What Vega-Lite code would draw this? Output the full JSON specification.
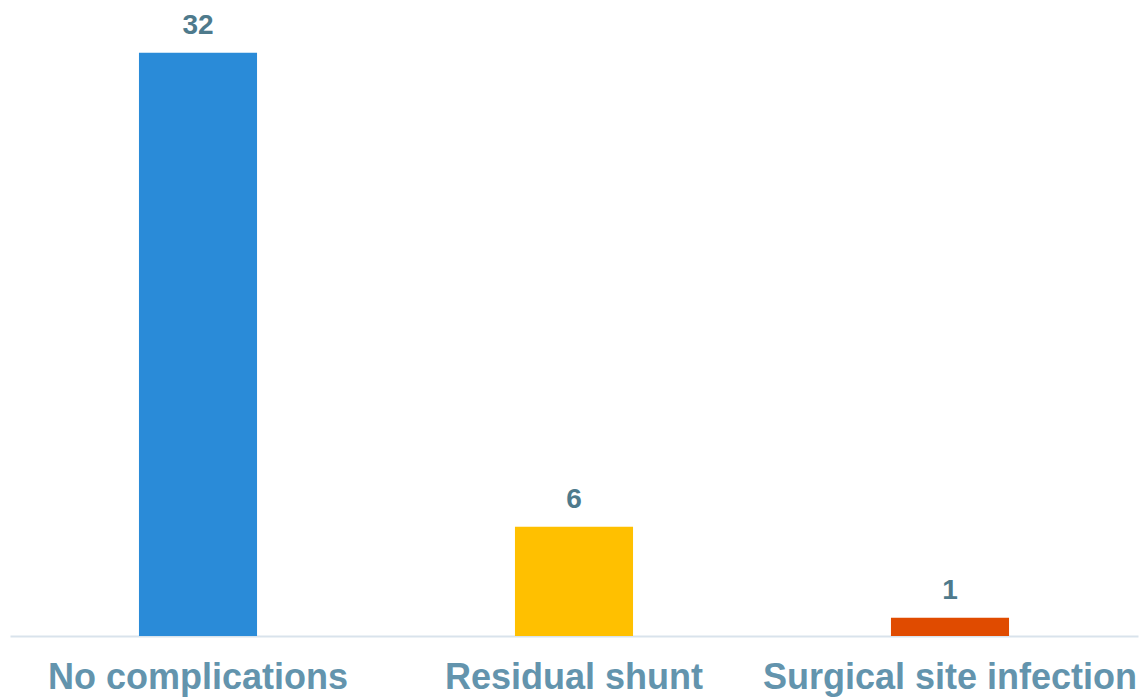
{
  "$schema": "https://vega.github.io/schema/vega-lite/v6.json",
  "autosize": {"type": "none"},
  "width": 1128,
  "height": 636,
  "padding": {"left": 10, "top": 0, "right": 6, "bottom": 62},
  "background": "#ffffff",
  "config": {
    "view": {"stroke": null},
    "font": "Liberation Sans"
  },
  "data": {
    "values": [
      {"outcome": "No complications", "patients": 32},
      {"outcome": "Residual shunt", "patients": 6},
      {"outcome": "Surgical site infection", "patients": 1}
    ]
  },
  "encoding": {
    "x": {
      "field": "outcome",
      "type": "nominal",
      "sort": null,
      "scale": {"paddingInner": 0.686, "paddingOuter": 0.343},
      "axis": {
        "title": null,
        "labelAngle": 0,
        "ticks": false,
        "labelPadding": 24,
        "labelFontSize": 36,
        "labelFontWeight": "bold",
        "labelColor": "#6394AD",
        "domainColor": "#D9E3EC",
        "domainWidth": 2,
        "labelLimit": 0
      }
    },
    "y": {
      "field": "patients",
      "type": "quantitative",
      "scale": {"domain": [0, 34.9], "nice": false},
      "axis": null
    }
  },
  "layer": [
    {
      "mark": {"type": "bar"},
      "encoding": {
        "color": {
          "field": "outcome",
          "type": "nominal",
          "sort": null,
          "scale": {
            "domain": ["No complications", "Residual shunt", "Surgical site infection"],
            "range": ["#2A8BD8", "#FFC000", "#E04B00"]
          },
          "legend": null
        }
      }
    },
    {
      "mark": {
        "type": "text",
        "baseline": "alphabetic",
        "dy": -19,
        "fontSize": 28,
        "fontWeight": "bold",
        "color": "#4E7A8C"
      },
      "encoding": {
        "text": {"field": "patients", "type": "quantitative"}
      }
    }
  ]
}
